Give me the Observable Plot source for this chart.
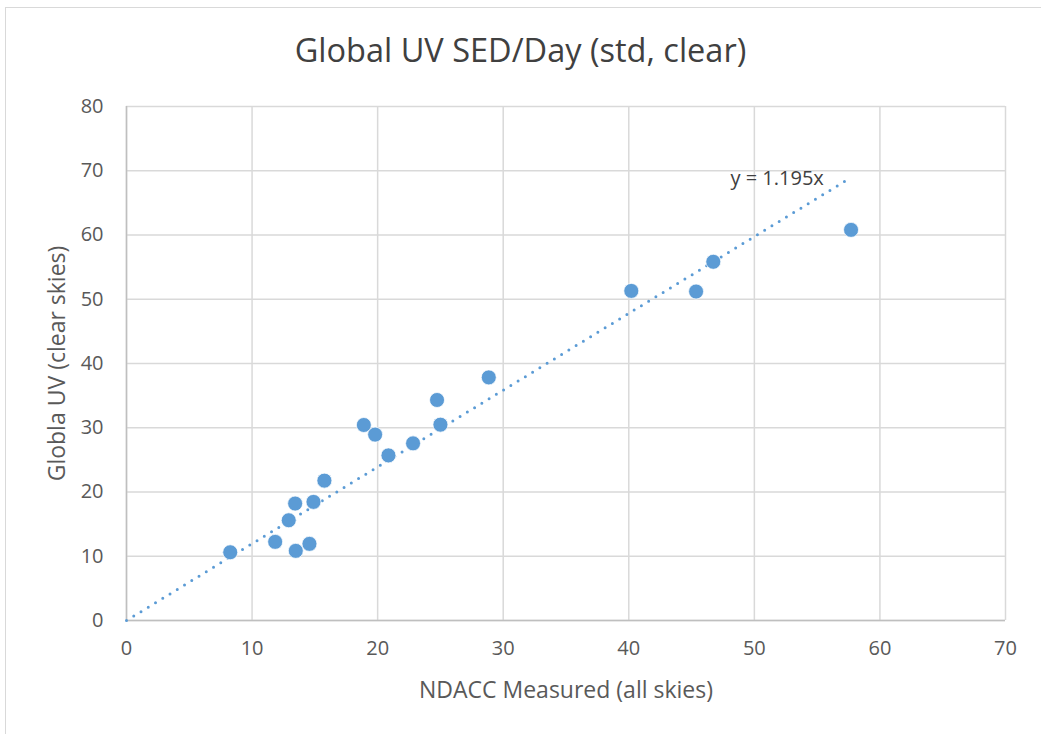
<!DOCTYPE html>
<html>
<head>
<meta charset="utf-8">
<script src="https://cdn.jsdelivr.net/npm/d3@7"></script>
<script src="https://cdn.jsdelivr.net/npm/@observablehq/plot@0.6"></script>
<style>
  html, body { margin: 0; padding: 0; background: #fff; overflow: hidden; width: 1041px; height: 734px; }
  #wrap { position: relative; width: 1041px; height: 734px; font-family: "Open Sans", sans-serif; }
  #border { position: absolute; left: 5px; top: 7px; width: 1200px; height: 900px; border: 1.5px solid #d9d9d9; box-sizing: border-box; }
  #title { position: absolute; left: 0; top: 0; width: 1041px; height: 80px; text-align: center; font-size: 32.5px; color: #404040; line-height: 100px; }
  #chart { position: absolute; left: 0; top: 80px; }
</style>
</head>
<body>
<div id="wrap">
  <div id="border"></div>
  <div id="title">Global UV SED/Day (std, clear)</div>
  <div id="chart"></div>
</div>
<script>
// Data
const ndaccMeasured = [8.26, 11.84, 13.48, 14.57, 12.92, 13.43, 14.89, 15.76, 18.9, 19.8, 20.86, 22.82, 24.73, 25.0, 28.85, 40.2, 45.36, 46.73, 57.7];
const globalUV      = [10.62, 12.24, 10.84, 11.93, 15.6, 18.2, 18.46, 21.77, 30.43, 28.93, 25.7, 27.57, 34.32, 30.48, 37.84, 51.3, 51.2, 55.83, 60.8];
const trendSlope = 1.195;
const trendLabel = "y = 1.195x";
const xTicks = [0, 10, 20, 30, 40, 50, 60, 70];
const yTicks = [0, 10, 20, 30, 40, 50, 60, 70, 80];
const xTitle = "NDACC Measured (all skies)";
const yTitle = "Globla UV (clear skies)";

const points = ndaccMeasured.map((x, i) => ({x, y: globalUV[i]}));
const maxX = d3.max(ndaccMeasured);
const trend = [0, maxX].map(x => ({x, y: trendSlope * x}));

const blue = "#5b9bd5";
const textColor = "#595959";

const plot = Plot.plot({
  width: 1041,
  height: 654,
  marginLeft: 126,
  marginRight: 36,
  marginTop: 26,
  marginBottom: 114,
  style: { fontFamily: "Open Sans, sans-serif", fontSize: "20px", color: textColor, background: "transparent" },
  x: { domain: [0, 70], ticks: xTicks, label: null },
  y: { domain: [0, 80], ticks: yTicks, label: null },
  marks: [
    Plot.gridX(xTicks, { stroke: "#d9d9d9", strokeOpacity: 1, strokeWidth: 1.5 }),
    Plot.gridY(yTicks, { stroke: "#d9d9d9", strokeOpacity: 1, strokeWidth: 1.5 }),
    Plot.ruleY([0], { stroke: "#bfbfbf", strokeWidth: 1.5 }),
    Plot.ruleX([0], { stroke: "#bfbfbf", strokeWidth: 1.5 }),
    Plot.axisX(xTicks, { tickSize: 0, tickPadding: 20, fontSize: 20, fill: textColor, label: null }),
    Plot.axisY(yTicks, { tickSize: 0, tickPadding: 23, fontSize: 20, fill: textColor, label: null }),
    Plot.line(trend, { x: "x", y: "y", stroke: blue, strokeWidth: 3, strokeDasharray: "0 8.5", strokeLinecap: "round" }),
    Plot.dot(points, { x: "x", y: "y", r: 7.5, fill: blue, stroke: "white", strokeWidth: 0.75 }),
    Plot.text([trendLabel], { x: 48.1, y: 68.8, text: d => d, textAnchor: "start", fontSize: 20, fill: "#404040" }),
    Plot.text([xTitle], { frameAnchor: "bottom", dy: 70, lineAnchor: "middle", textAnchor: "middle", fontSize: 23, fill: textColor }),
    Plot.text([yTitle], { frameAnchor: "left", dx: -69, rotate: -90, textAnchor: "middle", lineAnchor: "middle", fontSize: 23, fill: textColor })
  ]
});
document.getElementById("chart").appendChild(plot);
</script>
</body>
</html>
